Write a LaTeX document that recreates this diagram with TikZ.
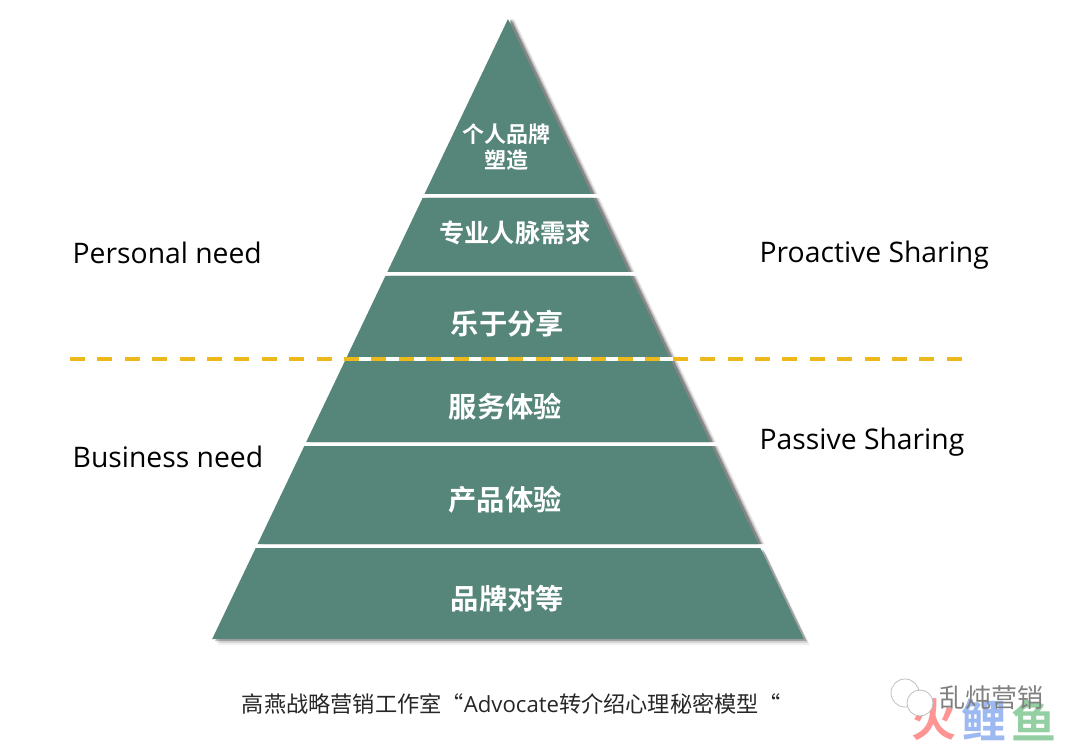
\documentclass[tikz,border=0pt]{standalone}
\usepackage{fontspec}
\setmainfont{Open Sans}
\newfontfamily\cjk{Noto Sans CJK SC}
\newfontfamily\cjkb{Noto Sans CJK SC Bold}
\usetikzlibrary{shadows}
\definecolor{pyrgreen}{HTML}{56857A}
\definecolor{dashyellow}{HTML}{EDB91A}
\definecolor{markred}{HTML}{FF9494}
\definecolor{markblue}{HTML}{9DB9F2}
\definecolor{markgreen}{HTML}{93CFA2}
\tikzset{
	layer/.style={fill=pyrgreen,
		drop shadow={shadow xshift=6pt,shadow yshift=0pt,opacity=.1,fill=black},
		drop shadow={shadow xshift=4.5pt,shadow yshift=0pt,opacity=.16,fill=black},
		drop shadow={shadow xshift=3pt,shadow yshift=0pt,opacity=.3,fill=black}},
	base layer/.style={fill=pyrgreen,
		drop shadow={shadow xshift=6pt,shadow yshift=-6pt,opacity=.06,fill=black},
		drop shadow={shadow xshift=4.5pt,shadow yshift=-4pt,opacity=.1,fill=black},
		drop shadow={shadow xshift=3pt,shadow yshift=-2pt,opacity=.25,fill=black}},
	level/.style={text=white,font=\cjkb\fontsize{#1}{#1}\selectfont,inner sep=0pt,align=center},
	side/.style={text=black,font=\fontsize{28.3}{29}\selectfont,inner sep=0pt,anchor=west},
	mark text/.style={text=#1,font=\cjkb\fontsize{45}{45}\selectfont,inner sep=0pt}
}
\begin{document}
\begin{tikzpicture}[x=1pt,y=-1pt]
	\useasboundingbox (0,0) rectangle (1080,746);

	\fill[layer] (508,19) -- (591.5,194) -- (424.5,194) -- cycle;
	\fill[layer] (422.6,198) -- (593.4,198) -- (628.7,272) -- (387.3,272) -- cycle;
	\fill[layer] (385.4,276) -- (630.6,276) -- (669.2,357) -- (346.8,357) -- cycle;
	\fill[layer] (344.9,361) -- (671.1,361) -- (709.8,442) -- (306.2,442) -- cycle;
	\fill[layer] (304.3,446) -- (711.7,446) -- (758.4,544) -- (257.6,544) -- cycle;
	\fill[base layer] (255.7,548) -- (760.3,548) -- (803.8,639) -- (212.2,639) -- cycle;

	\node[level=22] (brand) at (506.5,147) {个人品牌\\[4pt]塑造};
	\node[level=25.2] (network) at (515,233) {专业人脉需求};
	\node[level=28.3] (share) at (507.5,324) {乐于分享};
	\node[level=28.3] (service) at (505.5,407) {服务体验};
	\node[level=28.3] (product) at (505,500) {产品体验};
	\node[level=28.3] (equal) at (507.5,599) {品牌对等};

	\coordinate (dashL) at (70,359);
	\coordinate (dashR) at (962,359);
	\draw[dashyellow,line width=3.6pt,dash pattern=on 15pt off 12.4pt] (dashL) -- (dashR);

	\node[side] (personal) at (72.5,253) {Personal need};
	\node[side] (business) at (72.5,457) {Business need};
	\node[side] (proactive) at (759.5,255) {Proactive Sharing};
	\node[side] (passive) at (759.5,442) {Passive Sharing};

	\node[inner sep=0pt,text=black!85,font=\fontsize{22.2}{22}\selectfont] (caption) at (511.5,704)
		{\cjk 高燕战略营销工作室“\normalfont Advocate\cjk 转介绍心理秘密模型“};

	% watermark
	\node[mark text=markred] (fire) at (933.5,720) {火};
	\node[mark text=markblue] (carp) at (983.5,720) {鲤};
	\node[mark text=markgreen] (fish) at (1034,720) {鱼};
	\draw[black!25,line width=.8pt] (905,693) circle (14pt);
	\fill[white] (920,703) circle (13pt);
	\draw[black!25,line width=.8pt] (920,703) circle (13pt);
	\node[inner sep=0pt,text=black!50,font=\cjk\fontsize{26}{26}\selectfont] (wechat) at (991.5,698) {乱炖营销};
\end{tikzpicture}
\end{document}
